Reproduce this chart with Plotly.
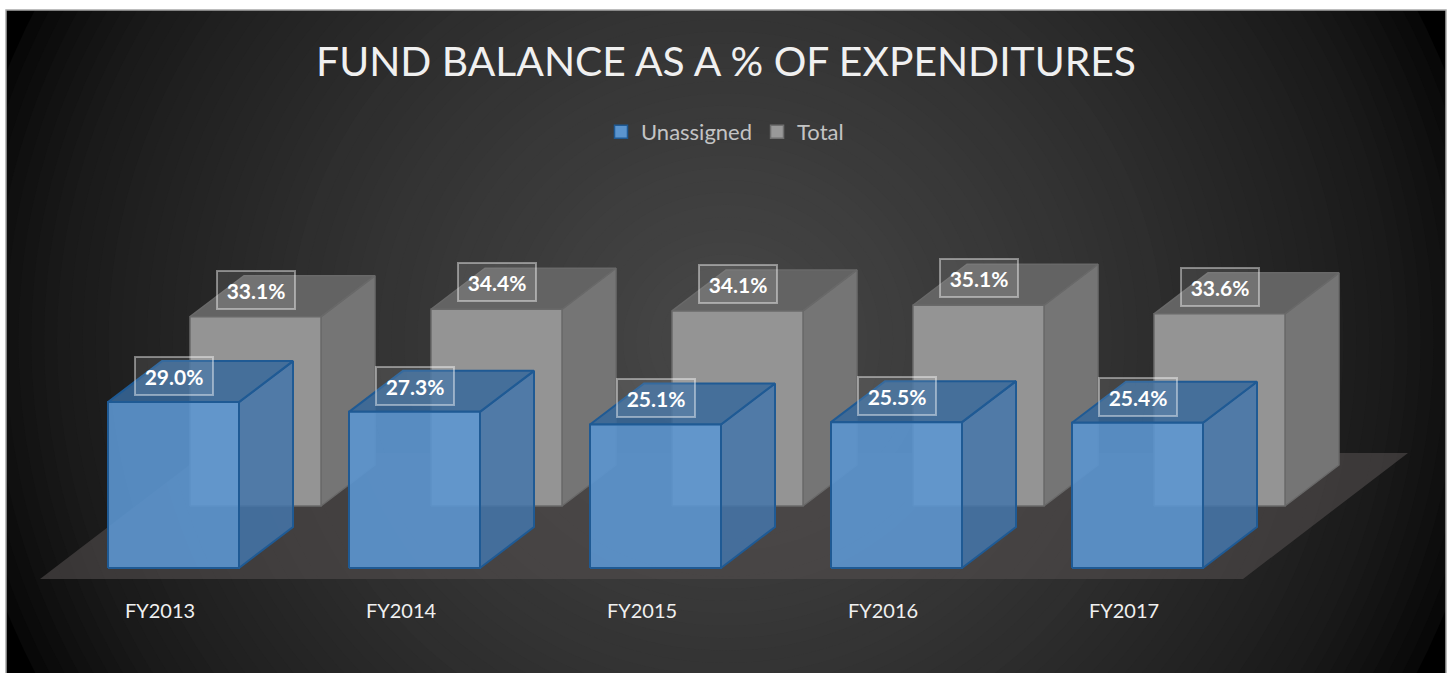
import plotly.graph_objects as go

# ---- data ----
categories = ["FY2013", "FY2014", "FY2015", "FY2016", "FY2017"]
unassigned = [29.0, 27.3, 25.1, 25.5, 25.4]
total = [33.1, 34.4, 34.1, 35.1, 33.6]
chart_title = "FUND BALANCE AS A % OF EXPENDITURES"

# ---- geometry / style ----
W, H = 1451, 673
PX_CAT = 241.0      # pixels per category step
PX_PCT = 5.72       # pixels per percentage point
X0_PX = 173.5       # pixel x of the first category
Y0_PX = 568.0       # pixel y of 0 %
HALF = 65.5 / PX_CAT
DEPTH_X = 54 / PX_CAT
DEPTH_Y = 41 / PX_PCT
LAYER_X = 82 / PX_CAT
LAYER_Y = 62 / PX_PCT
FONT = "Lato"

fig = go.Figure()


def poly(xs, ys, fill, line, width=1.5):
    fig.add_trace(go.Scatter(
        x=xs + xs[:1], y=ys + ys[:1], mode="lines", fill="toself",
        fillcolor=fill, line=dict(color=line, width=width),
        hoverinfo="skip", showlegend=False,
    ))


def prism(i, value, layer, front, side, top, edge, width):
    xl = i - HALF + layer * LAYER_X
    xr = i + HALF + layer * LAYER_X
    yb = layer * LAYER_Y
    yt = yb + value
    poly([xr, xr + DEPTH_X, xr + DEPTH_X, xr], [yb, yb + DEPTH_Y, yt + DEPTH_Y, yt], side, edge, width)
    poly([xl, xr, xr + DEPTH_X, xl + DEPTH_X], [yt, yt, yt + DEPTH_Y, yt + DEPTH_Y], top, edge, width)
    poly([xl, xr, xr, xl], [yb, yb, yt, yt], front, edge, width)


# floor
floor_x = [(40 - X0_PX) / PX_CAT, (1243 - X0_PX) / PX_CAT, (1408 - X0_PX) / PX_CAT, (205 - X0_PX) / PX_CAT]
floor_y = [-11 / PX_PCT, -11 / PX_PCT, 115 / PX_PCT, 115 / PX_PCT]
poly(floor_x, floor_y, "rgba(82,77,77,0.61)", "rgba(0,0,0,0)", 0)

for i, v in enumerate(total):
    prism(i, v, 1, "#949494", "#757575", "#636363", "#696969", 1.5)
for i, v in enumerate(unassigned):
    prism(i, v, 0, "rgba(92,150,208,0.90)", "rgba(68,118,170,0.85)",
          "rgba(55,105,155,0.85)", "#1f5a94", 2)

# legend entries
fig.add_trace(go.Scatter(x=[None], y=[None], mode="markers", name="Unassigned",
                         marker=dict(symbol="square", size=13, color="#5b95cf",
                                     line=dict(color="#1f5a94", width=1.5))))
fig.add_trace(go.Scatter(x=[None], y=[None], mode="markers", name="Total",
                         marker=dict(symbol="square", size=13, color="#999999",
                                     line=dict(color="#6f6f6f", width=1.5))))

# data labels
annotations = []


def label(i, value, layer, up_px):
    annotations.append(dict(
        x=i + layer * LAYER_X, y=layer * LAYER_Y + value + up_px / PX_PCT,
        xref="x", yref="y", text=f"<b>{value:.1f}%</b>", showarrow=False,
        font=dict(family=FONT, size=21, color="white"),
        width=76, height=36, borderpad=0, borderwidth=2,
        bordercolor="rgba(255,255,255,0.42)", bgcolor="rgba(255,255,255,0.10)",
    ))


for i, v in enumerate(total):
    label(i, v, 1, 27)
for i, v in enumerate(unassigned):
    label(i, v, 0, 26)

# background: radial gradient as concentric ellipses, then white page margins
shapes = [dict(type="rect", xref="paper", yref="paper", x0=0, x1=1, y0=0, y1=1,
               fillcolor="black", line=dict(width=0), layer="below")]
CX, CY, RX, RY = 726.0, 341.0, 772.0, 743.0
STOPS = [(0.0, 72), (0.4, 54), (0.56, 46), (0.87, 26), (0.97, 13), (1.0, 8)]
STEPS = 60


def shade(f):
    for (f0, g0), (f1, g1) in zip(STOPS, STOPS[1:]):
        if f <= f1:
            return int(round(g0 + (g1 - g0) * (f - f0) / (f1 - f0)))
    return STOPS[-1][1]


for k in range(STEPS):
    f = 1 - k / STEPS
    g = shade(f)
    shapes.append(dict(
        type="circle", xref="paper", yref="paper", layer="below",
        x0=(CX - RX * f) / W, x1=(CX + RX * f) / W,
        y0=1 - (CY + RY * f) / H, y1=1 - (CY - RY * f) / H,
        fillcolor=f"rgb({g},{g},{g})", line=dict(width=0),
    ))
for (a, b, c, d) in [(0, 6, 0, H), (1446, W, 0, H), (0, W, 0, 10)]:
    shapes.append(dict(type="rect", xref="paper", yref="paper", layer="below",
                       x0=a / W, x1=b / W, y0=1 - d / H, y1=1 - c / H,
                       fillcolor="white", line=dict(width=0)))
shapes.append(dict(type="rect", xref="paper", yref="paper", layer="below",
                   x0=6 / W, x1=1446 / W, y0=-0.01, y1=1 - 10 / H,
                   fillcolor="rgba(0,0,0,0)", line=dict(color="#a8a8a8", width=1.5)))

fig.update_layout(
    width=W, height=H, margin=dict(l=0, r=0, t=0, b=0),
    paper_bgcolor="white", plot_bgcolor="rgba(0,0,0,0)",
    title=dict(text=chart_title, x=726 / W, xanchor="center", y=1 - 62 / H, yanchor="middle",
               font=dict(family=FONT, size=40.8, color="#f0f0f0")),
    legend=dict(orientation="h", x=725 / W, xanchor="center", y=1 - 132 / H, yanchor="middle",
                font=dict(family=FONT, size=22, color="#c4c4c4"),
                bgcolor="rgba(0,0,0,0)", itemclick=False, itemdoubleclick=False),
    xaxis=dict(range=[-X0_PX / PX_CAT, (W - X0_PX) / PX_CAT], domain=[0, 1], showgrid=False,
               zeroline=False, showline=False, ticks="",
               tickmode="array", tickvals=[i - 13.5 / PX_CAT for i in range(len(categories))],
               ticktext=categories, tickfont=dict(family=FONT, size=20, color="#f0f0f0"),
               anchor="free", position=(H - 597) / H),
    yaxis=dict(range=[-(H - Y0_PX) / PX_PCT, Y0_PX / PX_PCT], domain=[0, 1], visible=False),
    shapes=shapes, annotations=annotations,
)

fig.write_html("out.html", config=dict(displayModeBar=False),
               post_script="document.body.style.margin='0';")
